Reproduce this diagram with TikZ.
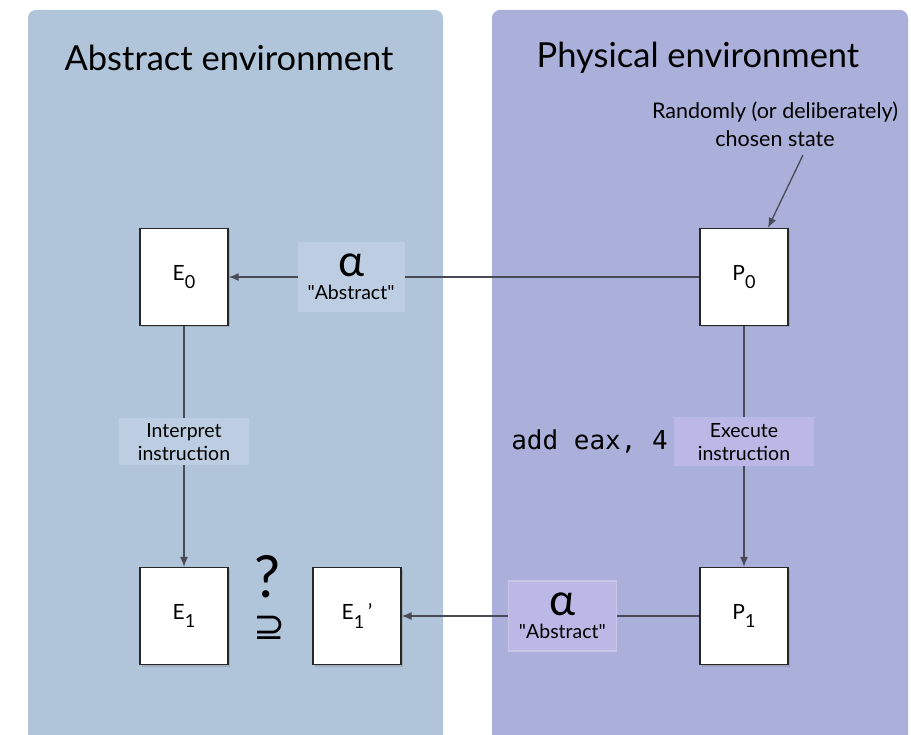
\documentclass[tikz,border=0pt]{standalone}
\usepackage{fontspec}
\setmainfont{Lato}
\setmonofont{DejaVu Sans Mono}
\newfontfamily\symfont{DejaVu Sans}
\usetikzlibrary{arrows.meta}
\usetikzlibrary{positioning}
\usetikzlibrary{shadows}

\definecolor{abstractbg}{RGB}{176,196,218}
\definecolor{physicalbg}{RGB}{170,176,218}
\definecolor{abstracttag}{RGB}{189,206,226}
\definecolor{physicaltag}{RGB}{188,184,229}
\definecolor{wire}{RGB}{72,74,88}

\newcommand{\idx}[1]{\raisebox{-0.4em}{\fontsize{18}{18}\selectfont #1}}
\newcommand{\abstr}{\textquotedbl Abstract\textquotedbl}

\tikzset{
  panel/.style={rounded corners=8pt},
  state/.style={draw=black!85, line width=1.3pt, fill=white,
    minimum width=88pt, minimum height=97pt, inner sep=0pt,
    drop shadow={shadow xshift=2pt, shadow yshift=-2pt, opacity=0.35},
    font=\fontsize{21}{24}\selectfont},
  tag/.style={inner sep=0pt, align=center, font=\fontsize{19.5}{23}\selectfont},
  link/.style={draw=wire, line width=1.3pt, -{Latex[length=10pt,width=8pt]}},
  heading/.style={font=\fontsize{34.5}{36}\selectfont},
}

\begin{document}
\begin{tikzpicture}[x=1pt, y=-1pt]
  \useasboundingbox (0,0) rectangle (911,735);
  \begin{scope}
    \clip (0,0) rectangle (911,735);
    \fill[abstractbg, panel] (28,10) rectangle (443,760);
    \fill[physicalbg, panel] (492,10) rectangle (908,760);
  \end{scope}

  % headings
  \node[heading] (abshead) at (229,58) {Abstract environment};
  \node[heading] (phyhead) at (698,58) {Physical environment};

  % states
  \node[state] (e0) at (184,277) {E\idx{0}};
  \node[state] (p0) at (744,277) {P\idx{0}};
  \node[state] (e1) at (184,616) {E\idx{1}};
  \node[state] (e1b) at (357,616) {E\idx{1}\,'};
  \node[state] (p1) at (744,616) {P\idx{1}};

  \node[align=center, font=\fontsize{21.5}{28}\selectfont] (choice) at (775,124)
    {Randomly (or deliberately)\\chosen state};

  \node[inner sep=0pt, font=\fontsize{58}{58}\selectfont] (query) at (267,577) {?};
  \node[inner sep=0pt, font=\symfont\fontsize{38}{38}\selectfont] (sup) at (269,628) {⊇};

  % connectors
  \draw[link] ([xshift=28pt, yshift=-5pt]choice.south) -- ([xshift=24pt]p0.north);
  \draw[link] (p0) -- node[tag, pos=0.74, fill=abstracttag,
      minimum width=107pt, minimum height=70pt] (alpha0)
      {{\fontsize{44}{30}\selectfont α}\\\abstr} (e0);
  \draw[link] (e0) -- node[tag, pos=0.48, fill=abstracttag,
      minimum width=130pt, minimum height=47pt] (interp)
      {Interpret\\instruction} (e1);
  \draw[link] (p0) -- node[tag, pos=0.48, fill=physicaltag,
      minimum width=140pt, minimum height=49pt] (exec)
      {Execute\\instruction} (p1);
  \draw[link] (p1) -- node[tag, pos=0.46, fill=physicaltag, draw=physicaltag!80!white,
      minimum width=108pt, minimum height=70pt] (alpha1)
      {{\fontsize{44}{30}\selectfont α}\\\abstr} (e1b);

  \node[left=2pt of exec, font=\ttfamily\fontsize{26}{28}\selectfont] (instr) {add eax, 4};
\end{tikzpicture}
\end{document}
